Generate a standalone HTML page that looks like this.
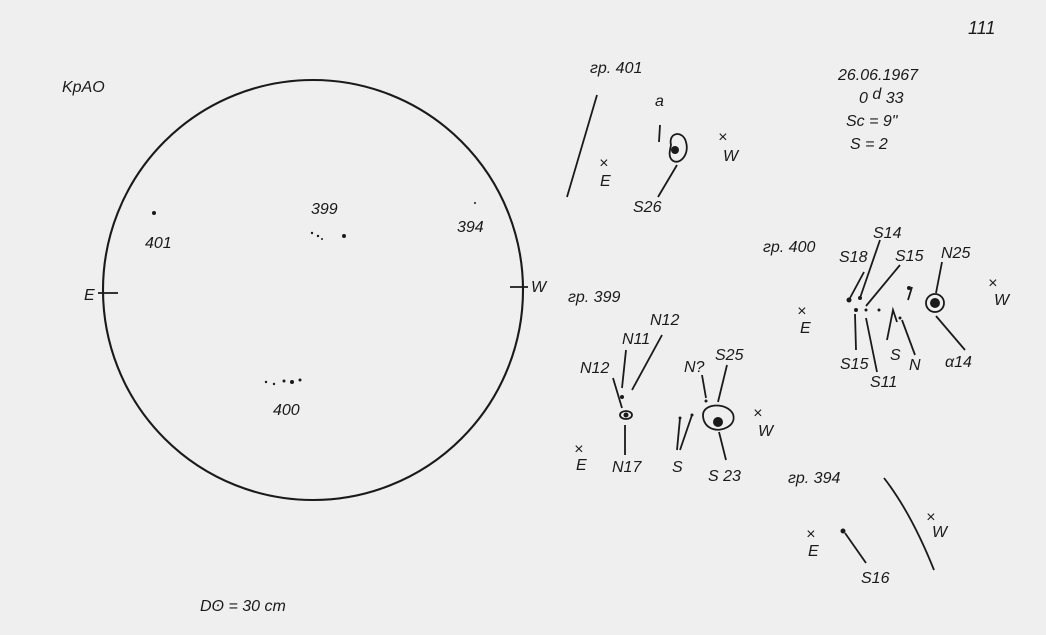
<!DOCTYPE html>
<html><head><meta charset="utf-8"><style>
html,body{margin:0;padding:0;background:#efefef;}
svg{display:block;}
text{font-family:"Liberation Sans",sans-serif;font-style:italic;font-size:16px;fill:#1a1a1a;}
</style></head><body>
<svg width="1046" height="635" viewBox="0 0 1046 635" xmlns="http://www.w3.org/2000/svg">
<rect width="1046" height="635" fill="#efefef"/>
<g stroke="#1a1a1a" fill="none" stroke-width="1.8">
<circle cx="313" cy="290" r="210" stroke-width="2.1"/>
<line x1="98" y1="293" x2="118" y2="293"/>
<line x1="510" y1="287" x2="528" y2="287"/>
<path d="M597 95 L567 197"/>
<path d="M671 145 C668 132 683 130 686 142 C690 156 678 166 672 160 C668 156 670 150 671 145Z"/>
<line x1="660" y1="125" x2="659" y2="142"/>
<line x1="677" y1="165" x2="658" y2="197"/>
<line x1="613" y1="378" x2="622" y2="408"/>
<line x1="626" y1="350" x2="622" y2="388"/>
<line x1="662" y1="335" x2="632" y2="390"/>
<line x1="625" y1="425" x2="625" y2="455"/>
<ellipse cx="626" cy="415" rx="6" ry="4"/>
<line x1="702" y1="375" x2="706" y2="398"/>
<line x1="727" y1="365" x2="718" y2="402"/>
<path d="M703 415 C703 403 727 402 733 414 C737 426 721 432 713 429 C706 427 703 421 703 415Z"/>
<line x1="719" y1="432" x2="726" y2="460"/>
<line x1="680" y1="418" x2="677" y2="450"/>
<line x1="692" y1="415" x2="680" y2="450"/>
<line x1="864" y1="272" x2="850" y2="298"/>
<line x1="880" y1="240" x2="860" y2="298"/>
<line x1="900" y1="265" x2="866" y2="306"/>
<line x1="942" y1="262" x2="936" y2="293"/>
<line x1="855" y1="314" x2="856" y2="350"/>
<line x1="866" y1="318" x2="877" y2="372"/>
<path d="M887 340 L893 310 L897 322"/>
<line x1="902" y1="320" x2="915" y2="355"/>
<line x1="936" y1="316" x2="965" y2="350"/>
<circle cx="935" cy="303" r="9"/>
<line x1="908" y1="300" x2="912" y2="287"/>
<path d="M884 478 C905 505 922 540 934 570"/>
<line x1="845" y1="533" x2="866" y2="563"/>
</g>
<g fill="#1a1a1a">
<circle cx="675" cy="150" r="4"/>
<circle cx="718" cy="422" r="5"/>
<circle cx="935" cy="303" r="5"/>
<circle cx="626" cy="415" r="2.5"/>
<circle cx="622" cy="397" r="2"/>
<circle cx="849" cy="300" r="2.5"/>
<circle cx="860" cy="298" r="2"/>
<circle cx="856" cy="310" r="2"/>
<circle cx="866" cy="310" r="1.5"/>
<circle cx="909" cy="288" r="2"/>
<circle cx="879" cy="310" r="1.5"/>
<circle cx="900" cy="318" r="1.5"/>
<circle cx="843" cy="531" r="2.5"/>
<circle cx="706" cy="401" r="1.5"/>
<circle cx="680" cy="418" r="1.5"/>
<circle cx="692" cy="415" r="1.5"/>
<circle cx="154" cy="213" r="2"/>
<circle cx="344" cy="236" r="2"/>
<circle cx="312" cy="233" r="1.2"/><circle cx="318" cy="236" r="1.2"/><circle cx="322" cy="239" r="1"/>
<circle cx="266" cy="382" r="1.2"/><circle cx="274" cy="384" r="1.2"/><circle cx="284" cy="381" r="1.5"/><circle cx="292" cy="382" r="2"/><circle cx="300" cy="380" r="1.5"/>
<circle cx="475" cy="203" r="1"/>
</g>
<text x="62" y="92">KpAO</text>
<text x="145" y="248">401</text>
<text x="311" y="214">399</text>
<text x="457" y="232">394</text>
<text x="84" y="300">E</text>
<text x="531" y="292">W</text>
<text x="273" y="415">400</text>
<text x="200" y="611">Dʘ = 30 cm</text>
<text x="968" y="34" style="font-size:18px">111</text>
<text x="590" y="73">гр. 401</text>
<text x="655" y="106">a</text>
<text x="599" y="168">×</text><text x="600" y="186">E</text>
<text x="718" y="142">×</text><text x="723" y="161">W</text>
<text x="633" y="212">S26</text>
<text x="838" y="80">26.06.1967</text>
<text x="859" y="103">0 <tspan dy="-4">d</tspan><tspan dy="4"> 33</tspan></text>
<text x="846" y="126">Sc =  9"</text>
<text x="850" y="149">S  =  2</text>
<text x="763" y="252">гр. 400</text>
<text x="873" y="238">S14</text>
<text x="839" y="262">S18</text>
<text x="895" y="261">S15</text>
<text x="941" y="258">N25</text>
<text x="988" y="288">×</text><text x="994" y="305">W</text>
<text x="797" y="316">×</text><text x="800" y="333">E</text>
<text x="840" y="369">S15</text>
<text x="870" y="387">S11</text>
<text x="890" y="360">S</text>
<text x="909" y="370">N</text>
<text x="945" y="367">α14</text>
<text x="568" y="302">гр. 399</text>
<text x="650" y="325">N12</text>
<text x="622" y="344">N11</text>
<text x="580" y="373">N12</text>
<text x="684" y="372">N?</text>
<text x="715" y="360">S25</text>
<text x="753" y="418">×</text><text x="758" y="436">W</text>
<text x="574" y="454">×</text><text x="576" y="470">E</text>
<text x="612" y="472">N17</text>
<text x="672" y="472">S</text>
<text x="708" y="481">S 23</text>
<text x="788" y="483">гр. 394</text>
<text x="926" y="522">×</text><text x="932" y="537">W</text>
<text x="806" y="539">×</text><text x="808" y="556">E</text>
<text x="861" y="583">S16</text>
</svg>
</body></html>
